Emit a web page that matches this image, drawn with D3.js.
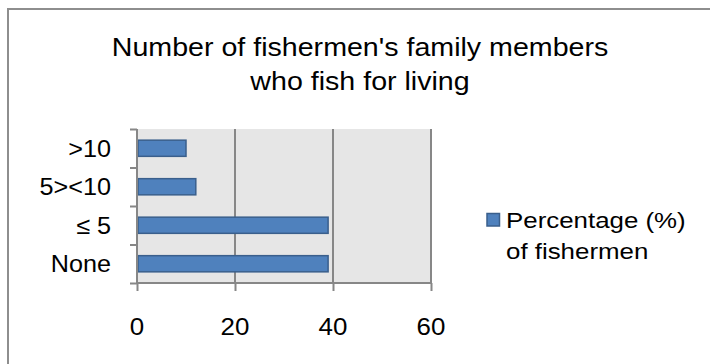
<!DOCTYPE html>
<html>
<head>
<meta charset="utf-8">
<script src="https://cdn.jsdelivr.net/npm/d3@7/dist/d3.min.js"></script>
<style>
  html, body { margin: 0; padding: 0; background: #fff; }
  svg { display: block; }
  text { font-family: "Liberation Sans", Arial, sans-serif; fill: #000; }
</style>
</head>
<body>
<svg id="chart" width="710" height="364"></svg>
<script>
// Chart data
const categories = [">10", "5><10", "\u2264 5", "None"];
const values = [10, 12, 39, 39];
const xTicks = [0, 20, 40, 60];
const titleLines = ["Number of fishermen's family members", "who fish for living"];
const legendLines = ["Percentage (%)", "of fishermen"];

const svg = d3.select("#chart");
const W = 710, H = 364;

const plot = { left: 137, right: 431, top: 129, bottom: 283 };
const axisGray = "#878787";

// Outer frame (top and left edges)
svg.append("path")
  .attr("d", `M8,${H} L8,9 L${W},9`)
  .attr("fill", "none")
  .attr("stroke", "#8e8e8e")
  .attr("stroke-width", 2);

// Scales
const x = d3.scaleLinear().domain([0, 60]).range([plot.left, plot.right]);
const y = d3.scaleBand().domain(categories)
  .range([plot.top, plot.bottom])
  .paddingInner(0.58).paddingOuter(0.29);

// Plot background
svg.append("rect")
  .attr("x", plot.left).attr("y", plot.top)
  .attr("width", plot.right - plot.left)
  .attr("height", plot.bottom - plot.top)
  .attr("fill", "#e6e6e6");

// Vertical gridlines
svg.append("g").selectAll("line")
  .data(xTicks.filter(d => d > 0))
  .join("line")
  .attr("x1", d => x(d)).attr("x2", d => x(d))
  .attr("y1", plot.top).attr("y2", plot.bottom)
  .attr("stroke", axisGray).attr("stroke-width", 2);

// Bars
svg.append("g").selectAll("rect")
  .data(categories)
  .join("rect")
  .attr("x", x(0) + 1)
  .attr("y", d => y(d))
  .attr("width", (d, i) => x(values[i]) - x(0) - 1)
  .attr("height", y.bandwidth())
  .attr("fill", "#4f81bd")
  .attr("stroke", "#3a5f8c")
  .attr("stroke-width", 1.5);

// X axis
const xAxis = svg.append("g")
  .attr("transform", `translate(0,${plot.bottom})`)
  .call(d3.axisBottom(x).tickValues(xTicks).tickSize(8).tickFormat(""));
xAxis.select(".domain").attr("stroke", axisGray).attr("stroke-width", 2)
  .attr("d", `M${plot.left},0H${plot.right}`);
xAxis.selectAll(".tick line").attr("stroke", axisGray).attr("stroke-width", 2);

// X tick labels
svg.append("g").selectAll("text")
  .data(xTicks)
  .join("text")
  .attr("transform", d => `translate(${x(d)},335) scale(1.08,1)`)
  .attr("text-anchor", "middle")
  .attr("font-size", 24)
  .text(d => d);

// Y axis with ticks at category boundaries
const yEdges = d3.scaleLinear().domain([0, categories.length]).range([plot.top, plot.bottom]);
const yAxis = svg.append("g")
  .attr("transform", `translate(${plot.left},0)`)
  .call(d3.axisLeft(yEdges).tickValues(d3.range(categories.length + 1)).tickSize(7).tickFormat(""));
yAxis.select(".domain").attr("stroke", axisGray).attr("stroke-width", 2)
  .attr("d", `M0,${plot.top}V${plot.bottom}`);
yAxis.selectAll(".tick line").attr("stroke", axisGray).attr("stroke-width", 2);

// Y category labels
svg.append("g").selectAll("text")
  .data(categories)
  .join("text")
  .attr("transform", d => `translate(111,${y(d) + y.bandwidth() / 2 + 8.5}) scale(1.05,1)`)
  .attr("text-anchor", "end")
  .attr("font-size", 24)
  .text(d => d);

// Title
svg.append("g").selectAll("text")
  .data(titleLines)
  .join("text")
  .attr("transform", (d, i) => `translate(360,${56 + i * 34}) scale(1.1,1)`)
  .attr("text-anchor", "middle")
  .attr("font-size", 26)
  .text(d => d);

// Legend
svg.append("rect")
  .attr("x", 487).attr("y", 213.5)
  .attr("width", 12.5).attr("height", 12.5)
  .attr("fill", "#4f81bd")
  .attr("stroke", "#3a5f8c")
  .attr("stroke-width", 1.5);
svg.append("g").selectAll("text")
  .data(legendLines)
  .join("text")
  .attr("transform", (d, i) => `translate(506,${228 + i * 31}) scale(1.15,1)`)
  .attr("font-size", 22.5)
  .text(d => d);
</script>
</body>
</html>
